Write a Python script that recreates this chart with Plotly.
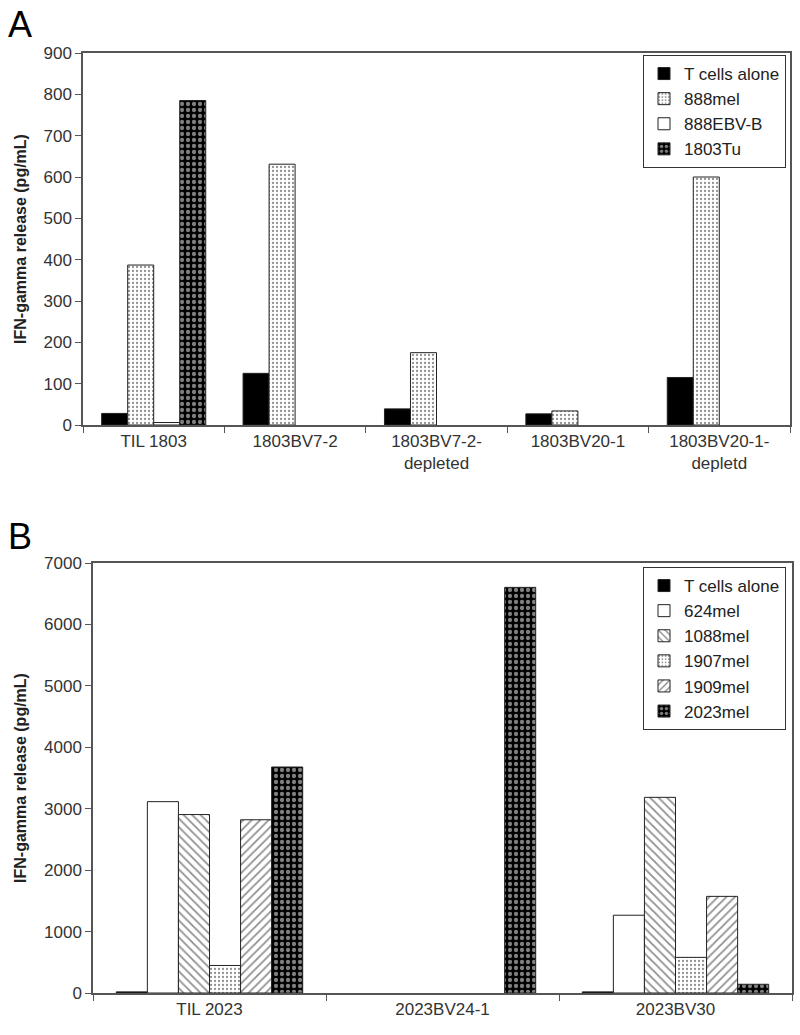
import plotly.graph_objects as go

# Panel A data
cats_a = ["TIL 1803", "1803BV7-2", "1803BV7-2-<br>depleted", "1803BV20-1", "1803BV20-1-<br>depletd"]
a_tcells = [28, 125, 39, 27, 115]
a_888mel = [387, 631, 175, 34, 600]
a_888ebv = [6, 0, 0, 0, 0]
a_1803tu = [785, 0, 0, 0, 0]

# Panel B data
cats_b = ["TIL 2023", "2023BV24-1", "2023BV30"]
b_tcells = [18, 0, 18]
b_624mel = [3115, 0, 1266]
b_1088mel = [2905, 0, 3185]
b_1907mel = [448, 0, 580]
b_1909mel = [2820, 0, 1573]
b_2023mel = [3679, 6603, 142]

yticks_a = list(range(0, 901, 100))
yticks_b = list(range(0, 7001, 1000))

FONT = "Liberation Sans, Arial, sans-serif"
LINE = "#222222"


def nz(vals):
    return [v if v else None for v in vals]


STYLES = {
    "solid_black": dict(color="black"),
    "white": dict(color="white"),
    "dots": dict(color="white", pattern=dict(shape=".", fgcolor="#222222", bgcolor="white", size=4, solidity=0.25)),
    "dark": dict(color="black", pattern=dict(shape=".", fgcolor="white", bgcolor="black", size=6, solidity=0.4)),
    "back": dict(color="white", pattern=dict(shape="\\", fgcolor="#222222", bgcolor="white", size=6, solidity=0.3)),
    "fwd": dict(color="white", pattern=dict(shape="/", fgcolor="#222222", bgcolor="white", size=6, solidity=0.3)),
}

fig = go.Figure()


def add_group(series, cats, xa, ya, leg, group_frac):
    n = len(series)
    w = group_frac / n
    for i, (name, vals, st) in enumerate(series):
        m = dict(STYLES[st])
        m["line"] = dict(color=LINE, width=1)
        fig.add_trace(go.Bar(x=cats, y=nz(vals), name=name, marker=m,
                             width=w, offset=-group_frac / 2 + i * w,
                             xaxis=xa, yaxis=ya, legend=leg))


series_a = [("T cells alone", a_tcells, "solid_black"),
            ("888mel", a_888mel, "dots"),
            ("888EBV-B", a_888ebv, "white"),
            ("1803Tu", a_1803tu, "dark")]
add_group(series_a, cats_a, "x", "y", "legend", 0.736)

series_b = [("T cells alone", b_tcells, "solid_black"),
            ("624mel", b_624mel, "white"),
            ("1088mel", b_1088mel, "back"),
            ("1907mel", b_1907mel, "dots"),
            ("1909mel", b_1909mel, "fwd"),
            ("2023mel", b_2023mel, "dark")]
add_group(series_b, cats_b, "x2", "y2", "legend2", 0.80)

H = 1035.0
W = 800.0

axis_common = dict(showline=True, linecolor="#555555", linewidth=1.5, mirror=True,
                   showgrid=False, zeroline=False, ticks="outside", ticklen=6,
                   tickcolor="#555555", automargin=False,
                   tickfont=dict(family=FONT, size=17, color="#333333"))

title_font = dict(family=FONT, size=16, color="#222222")
legend_common = dict(xanchor="right", yanchor="top",
                     bordercolor="#333333", borderwidth=1, bgcolor="white",
                     font=dict(family=FONT, size=17, color="#222222"),
                     tracegroupgap=0, itemwidth=30)

fig.update_layout(
    width=800, height=1035,
    margin=dict(l=0, r=0, t=0, b=0, autoexpand=False),
    paper_bgcolor="white", plot_bgcolor="white",
    font=dict(family=FONT, size=17, color="#222222"),
    xaxis=dict(domain=[83 / W, 790 / W], anchor="y", type="category",
               tickson="boundaries", **axis_common),
    yaxis=dict(domain=[1 - 425 / H, 1 - 53 / H], anchor="x", range=[0, 900],
               tickvals=yticks_a, **axis_common,
               title=dict(text="<b>IFN-gamma release (pg/mL)</b>", standoff=13, font=title_font)),
    xaxis2=dict(domain=[93 / W, 792 / W], anchor="y2", type="category",
                tickson="boundaries", **axis_common),
    yaxis2=dict(domain=[1 - 993 / H, 1 - 563 / H], anchor="x2", range=[0, 7000],
                tickvals=yticks_b, **axis_common,
                title=dict(text="<b>IFN-gamma release (pg/mL)</b>", standoff=13, font=title_font)),
    legend=dict(x=786 / W, y=1 - 55 / H, **legend_common),
    legend2=dict(x=786 / W, y=1 - 567 / H, **legend_common),
    annotations=[
        dict(text="A", x=6 / W, y=1 - 2 / H, xref="paper", yref="paper",
             xanchor="left", yanchor="top", showarrow=False,
             font=dict(family=FONT, size=36, color="black")),
        dict(text="B", x=6 / W, y=1 - 514 / H, xref="paper", yref="paper",
             xanchor="left", yanchor="top", showarrow=False,
             font=dict(family=FONT, size=36, color="black")),
    ],
)

fig.write_html("out.html", config={"displayModeBar": False},
               post_script="document.body.style.margin='0px';")
